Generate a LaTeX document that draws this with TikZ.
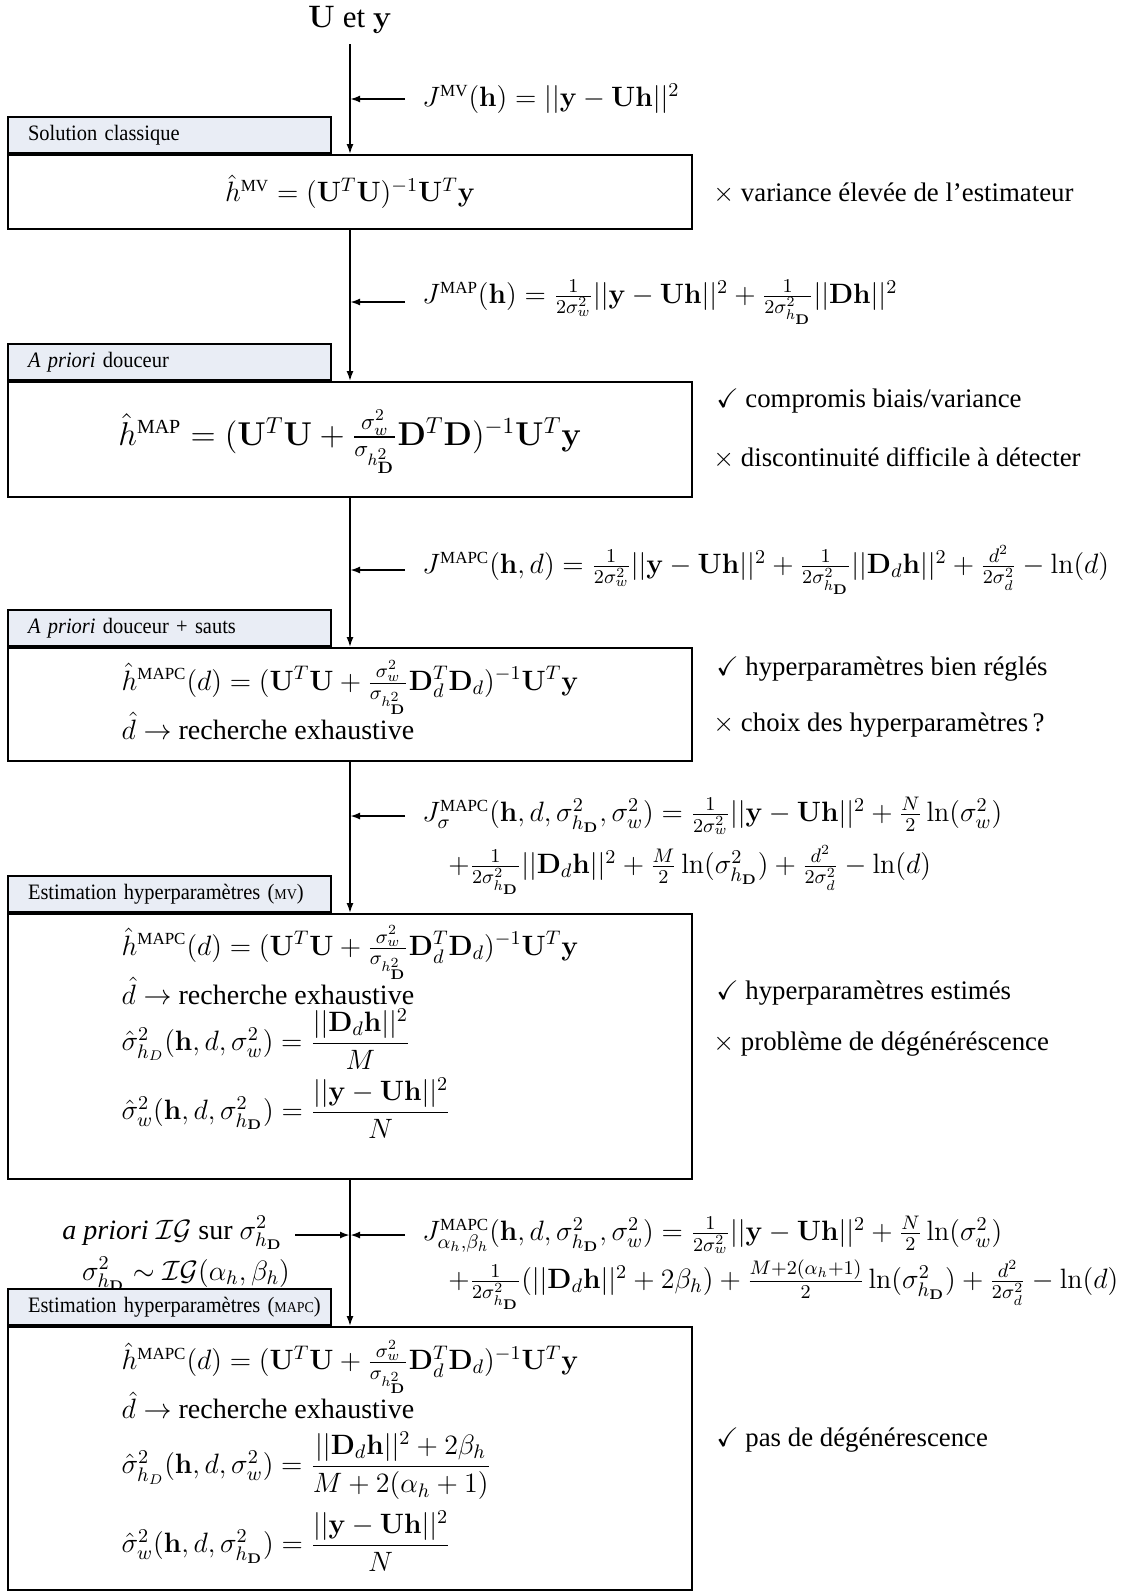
\documentclass[tikz,border=0pt]{standalone}
\usepackage{fix-cm}
\usepackage{amsmath,amssymb}
\usepackage[no-math]{fontspec}
\setmainfont{Liberation Serif}
\newfontfamily\tabfont[FakeStretch=0.93]{Liberation Serif}
\usetikzlibrary{arrows.meta}
\definecolor{tabfill}{RGB}{233,237,245}
\newcommand{\capsup}[2][8.5]{\text{\fontsize{#1}{#1}\selectfont #2}}
\newcommand{\smc}[1]{{\fontsize{7.5}{8}\selectfont #1}}
\newcommand{\hD}{h_{\mathbf D}}
\tikzset{
  box/.style={draw, line width=1pt, minimum width=342pt, inner sep=0pt},
  content/.style={inner sep=0pt, align=left, font=\fontsize{14}{17}\selectfont},
  tab/.style={draw, line width=1pt, fill=tabfill, minimum width=161.5pt, minimum height=18pt,
    text width=141.5pt, inner xsep=10pt, inner ysep=0pt, align=left, anchor=south west,
    font=\tabfont\fontsize{11}{12}\selectfont},
  note/.style={anchor=west, inner sep=0pt, font=\fontsize{13.4}{16}\selectfont},
  lab/.style={anchor=west, inner sep=0pt, font=\fontsize{14}{17}\selectfont},
  arr/.style={-{Latex[length=5pt,width=3.5pt]}, line width=1pt},
  flow/.style={-{Latex[length=5pt,width=3.5pt]}, line width=0.8pt},
}
\begin{document}
\begin{tikzpicture}[x=0.5pt, y=-0.5pt, font=\fontsize{13.4}{16}\selectfont]
\useasboundingbox (0,0) rectangle (1132,1596);

% source
\node[inner xsep=3pt, inner ysep=5pt, font=\fontsize{15.5}{18}\selectfont] (src) at (350,20) {$\mathbf U$ et $\mathbf y$};

% boxes
\node[box, minimum height=37pt] (b1) at (350,192) {};
\node[box, minimum height=57.5pt] (b2) at (350,439.5) {};
\node[box, minimum height=56.5pt] (b3) at (350,704.5) {};
\node[box, minimum height=132.5pt] (b4) at (350,1046.5) {};
\node[box, minimum height=131.5pt] (b5) at (350,1458.5) {};

% box contents
\node[content] (c1) at (350,192)
  {$\hat h^{\capsup{MV}} = (\mathbf U^T\mathbf U)^{-1}\mathbf U^T\mathbf y$};
\node[content, font=\fontsize{16.5}{19}\selectfont] (c2) at (350,442)
  {$\hat h^{\capsup[10]{MAP}} = (\mathbf U^T\mathbf U + \frac{\sigma_w^2}{\sigma_{h^2_{\mathbf D}}}\mathbf D^T\mathbf D)^{-1}\mathbf U^T\mathbf y$};
\node[content] (c3) at (350,700)
  {$\hat h^{\capsup{MAPC}}(d) = (\mathbf U^T\mathbf U + \frac{\sigma_w^2}{\sigma_{h^2_{\mathbf D}}}\mathbf D_d^T\mathbf D_d)^{-1}\mathbf U^T\mathbf y$\\[-2pt]
   $\hat d\rightarrow$ recherche exhaustive};
\node[content] (c4) at (350,1032)
  {$\hat h^{\capsup{MAPC}}(d) = (\mathbf U^T\mathbf U + \frac{\sigma_w^2}{\sigma_{h^2_{\mathbf D}}}\mathbf D_d^T\mathbf D_d)^{-1}\mathbf U^T\mathbf y$\\[-2pt]
   $\hat d\rightarrow$ recherche exhaustive\\[1pt]
   $\hat\sigma^2_{h_D}(\mathbf h,d,\sigma^2_w) = \dfrac{||\mathbf D_d\mathbf h||^2}{M}$\\[3pt]
   $\hat\sigma^2_w(\mathbf h,d,\sigma^2_{\hD}) = \dfrac{||\mathbf y-\mathbf U\mathbf h||^2}{N}$};
\node[content] (c5) at (350,1456)
  {$\hat h^{\capsup{MAPC}}(d) = (\mathbf U^T\mathbf U + \frac{\sigma_w^2}{\sigma_{h^2_{\mathbf D}}}\mathbf D_d^T\mathbf D_d)^{-1}\mathbf U^T\mathbf y$\\[-2pt]
   $\hat d\rightarrow$ recherche exhaustive\\[5.5pt]
   $\hat\sigma^2_{h_D}(\mathbf h,d,\sigma^2_w) = \dfrac{||\mathbf D_d\mathbf h||^2+2\beta_h}{M+2(\alpha_h+1)}$\\[4.5pt]
   $\hat\sigma^2_w(\mathbf h,d,\sigma^2_{\hD}) = \dfrac{||\mathbf y-\mathbf U\mathbf h||^2}{N}$};

% tabs
\node[tab] (t1) at (b1.north west) {\mbox{Solution classique}};
\node[tab] (t2) at (b2.north west) {\mbox{\textit{A priori} douceur}};
\node[tab] (t3) at (b3.north west) {\mbox{\textit{A priori} douceur + sauts}};
\node[tab] (t4) at (b4.north west) {\mbox{Estimation hyperparamètres (\smc{MV})}};
\node[tab] (t5) at (b5.north west) {\mbox{Estimation hyperparamètres (\smc{MAPC})}};

% notes
\node[note] (n1) at (713,193) {$\times$ variance élevée de l'estimateur};
\node[note] (n2a) at (716,401) {$\checkmark$ compromis biais/variance};
\node[note] (n2b) at (713,458) {$\times$ discontinuité difficile à détecter};
\node[note] (n3a) at (716,669) {$\checkmark$ hyperparamètres bien réglés};
\node[note] (n3b) at (713,725) {$\times$ choix des hyperparamètres\,?};
\node[note] (n4a) at (716,993) {$\checkmark$ hyperparamètres estimés};
\node[note] (n4b) at (713,1044) {$\times$ problème de dégénéréscence};
\node[note] (n5) at (716,1440) {$\checkmark$ pas de dégénérescence};

% criteria labels
\node[lab] (j1) at (422,99) {$J^{\capsup{MV}}(\mathbf h) = ||\mathbf y - \mathbf U\mathbf h||^2$};
\node[lab] (j2) at (422,302) {$J^{\capsup{MAP}}(\mathbf h) = \frac{1}{2\sigma_w^2}||\mathbf y-\mathbf U\mathbf h||^2 + \frac{1}{2\sigma^2_{\hD}}||\mathbf D\mathbf h||^2$};
\node[lab] (j3) at (422,570) {$J^{\capsup{MAPC}}(\mathbf h,d) = \frac{1}{2\sigma_w^2}||\mathbf y-\mathbf U\mathbf h||^2 + \frac{1}{2\sigma^2_{\hD}}||\mathbf D_d\mathbf h||^2 + \frac{d^2}{2\sigma_d^2} - \ln(d)$};
\node[lab] (j4a) at (422,816) {$J_\sigma^{\capsup{MAPC}}(\mathbf h,d,\sigma^2_{\hD},\sigma^2_w) = \frac{1}{2\sigma_w^2}||\mathbf y-\mathbf U\mathbf h||^2 + \frac N2\ln(\sigma_w^2)$};
\node[lab] (j4b) at (448,870) {$+\frac{1}{2\sigma^2_{\hD}}||\mathbf D_d\mathbf h||^2 + \frac M2\ln(\sigma^2_{\hD}) + \frac{d^2}{2\sigma_d^2} - \ln(d)$};
\node[lab] (j5a) at (422,1235) {$J^{\capsup{MAPC}}_{\alpha_h,\beta_h}(\mathbf h,d,\sigma^2_{\hD},\sigma^2_w) = \frac{1}{2\sigma_w^2}||\mathbf y-\mathbf U\mathbf h||^2 + \frac N2\ln(\sigma_w^2)$};
\node[lab] (j5b) at (448,1285) {$+\frac{1}{2\sigma^2_{\hD}}(||\mathbf D_d\mathbf h||^2+2\beta_h) + \frac{M+2(\alpha_h+1)}{2}\ln(\sigma^2_{\hD}) + \frac{d^2}{2\sigma_d^2} - \ln(d)$};
\node[inner sep=0pt, anchor=east, font=\fontsize{14}{17}\selectfont] (p1) at (283,1233) {\textit{a priori} $\mathcal{IG}$ sur $\sigma^2_{\hD}$};
\node[inner sep=0pt, font=\fontsize{14}{17}\selectfont] (p2) at (186,1274) {$\sigma^2_{\hD}\sim\mathcal{IG}(\alpha_h,\beta_h)$};

% flow
\draw[flow] (src) -- (b1);
\draw[flow] (b1) -- (b2);
\draw[flow] (b2) -- (b3);
\draw[flow] (b3) -- (b4);
\draw[flow] (b4) -- (b5);

% criterion arrows
\coordinate (a1) at (405,99);
\coordinate (a2) at (405,302);
\coordinate (a3) at (405,570);
\coordinate (a4) at (405,816);
\coordinate (a5) at (405,1235);
\coordinate (a5l) at (295,1235);
\draw[arr] (a1) -- (a1 -| b1.north);
\draw[arr] (a2) -- (a2 -| b1.north);
\draw[arr] (a3) -- (a3 -| b1.north);
\draw[arr] (a4) -- (a4 -| b1.north);
\draw[arr] (a5) -- (a5 -| b1.north);
\draw[arr] (a5l) -- (a5l -| b1.north);
\end{tikzpicture}
\end{document}
